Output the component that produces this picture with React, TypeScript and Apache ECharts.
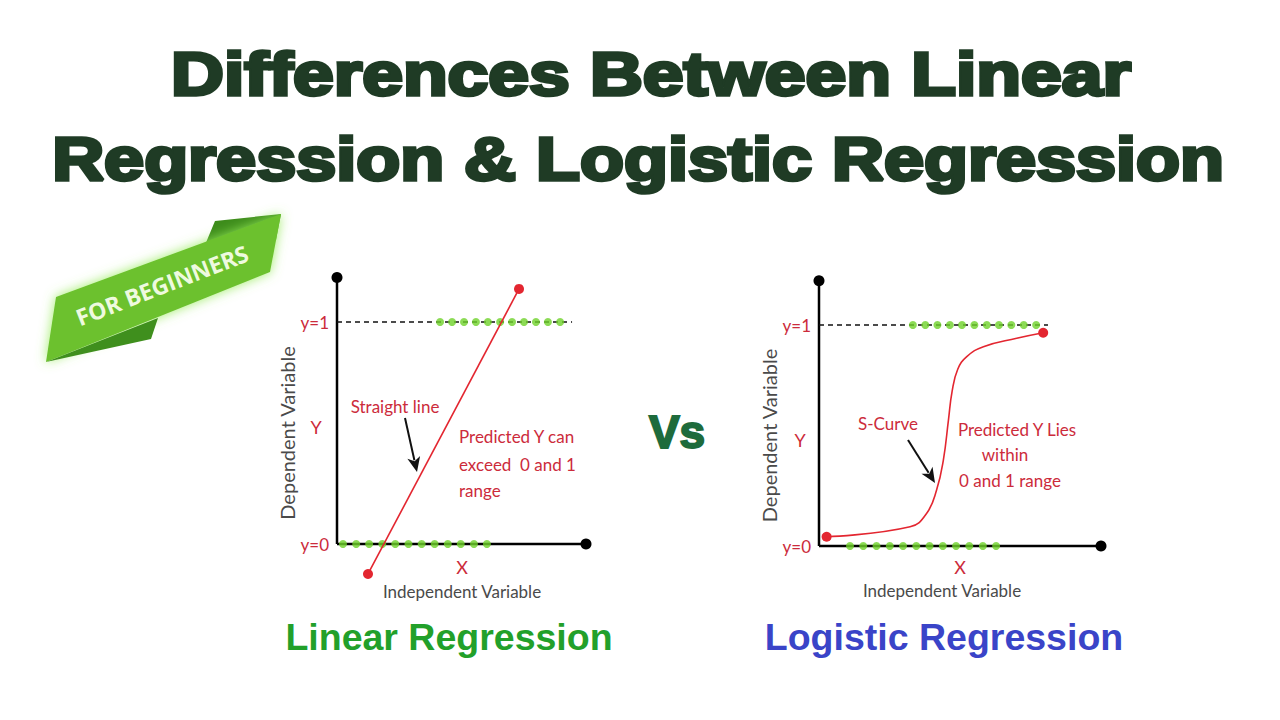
import React, { useEffect, useRef } from "react";
import * as echarts from "echarts";

// ---------- data ----------
const yTicks = [0, 1];
const yTickLabels = ["y=0", "y=1"];

// Linear regression panel
const linAxisY = [[0, 0], [0, 1.2]];
const linAxisX = [[0, 0], [10, 0]];
const linThreshold = [[0, 1], [9.44, 1]];
const linDotsTop = [4.14, 4.62, 5.1, 5.58, 6.06, 6.55, 7.03, 7.51, 7.99, 8.47, 8.96];
const linDotsBottom = [0.24, 0.77, 1.29, 1.82, 2.34, 2.87, 3.4, 3.92, 4.45, 4.97, 5.5, 6.02];
const linFit = [[1.245, -0.135], [7.31, 1.149]];

// Logistic regression panel
const logAxisY = [[0, 0], [0, 1.2]];
const logAxisX = [[0, 0], [10, 0]];
const logThreshold = [[0, 1], [8.12, 1]];
const logDotsTop = [3.33, 3.77, 4.2, 4.64, 5.07, 5.51, 5.95, 6.38, 6.82, 7.26, 7.7];
const logDotsBottom = [1.1, 1.57, 2.04, 2.51, 2.98, 3.45, 3.92, 4.39, 4.86, 5.33, 5.81, 6.28];
const logCurve = [
  [0.27, 0.042], [3.23, 0.087], [3.82, 0.148], [4.17, 0.253], [4.41, 0.389],
  [4.59, 0.57], [4.72, 0.7], [4.92, 0.8], [5.24, 0.857], [5.83, 0.902],
  [7.01, 0.94], [7.95, 0.965],
];

const titleLines = ["Differences Between Linear", "Regression & Logistic Regression"];
const panelTitles = ["Linear Regression", "Logistic Regression"];
// ---------------------------

const FONT = 'Lato, "Open Sans", sans-serif';
const RED = "#cc2b3b";
const LINE_RED = "#e32630";
const GREEN_DOT = "#6fd22b";
const GRAY = "#4a4a4a";

function endDots(pts: number[][], size: number, color?: string, which: "last" | "both" = "last") {
  return pts.map((p, i) => {
    const isEnd = which === "both" ? i === 0 || i === pts.length - 1 : i === pts.length - 1;
    return {
      value: p,
      symbol: isEnd ? "circle" : "none",
      symbolSize: size,
      itemStyle: color ? { color } : undefined,
    };
  });
}

function yLabel(v: number) {
  for (let i = 0; i < yTicks.length; i++) {
    if (Math.abs(v - yTicks[i]) < 1e-6) return yTickLabels[i];
  }
  return "";
}

function panelSeries(
  idx: number,
  axisY: number[][],
  axisX: number[][],
  threshold: number[][],
  dotsTop: number[],
  dotsBottom: number[],
  fit: number[][],
  smooth: boolean
) {
  const base = { xAxisIndex: idx, yAxisIndex: idx, silent: true };
  return [
    {
      ...base,
      type: "line",
      name: "y-axis",
      data: endDots(axisY, 11),
      lineStyle: { color: "#000", width: 2.5 },
      itemStyle: { color: "#000" },
      z: 2,
    },
    {
      ...base,
      type: "line",
      name: "x-axis",
      data: endDots(axisX, 11),
      lineStyle: { color: "#000", width: 2.5 },
      itemStyle: { color: "#000" },
      z: 2,
    },
    {
      ...base,
      type: "line",
      name: "y=1",
      data: threshold,
      symbol: "none",
      lineStyle: { color: "#111", width: 1.5, type: [5, 4] },
      z: 2,
    },
    {
      ...base,
      type: "scatter",
      name: "class 1",
      data: dotsTop.map((x) => [x, 1]),
      symbolSize: 8,
      itemStyle: { color: GREEN_DOT },
      z: 3,
    },
    {
      ...base,
      type: "scatter",
      name: "class 0",
      data: dotsBottom.map((x) => [x, 0]),
      symbolSize: 8,
      itemStyle: { color: GREEN_DOT },
      z: 3,
    },
    {
      ...base,
      type: "line",
      name: "prediction",
      data: endDots(fit, 10, LINE_RED, "both"),
      smooth: smooth ? 0.45 : false,
      lineStyle: { color: LINE_RED, width: 1.6 },
      itemStyle: { color: LINE_RED },
      z: 4,
    },
  ];
}

function txt(text: string, x: number, y: number, size: number, fill: string, extra: any = {}, el: any = {}) {
  return {
    type: "text",
    x,
    y,
    silent: true,
    ...el,
    style: {
      text,
      fill,
      fontSize: size,
      fontFamily: FONT,
      align: "center",
      verticalAlign: "middle",
      ...extra,
    },
  };
}

function arrow(x1: number, y1: number, tx: number, ty: number) {
  const dx = tx - x1;
  const dy = ty - y1;
  const len = Math.sqrt(dx * dx + dy * dy);
  const ux = dx / len;
  const uy = dy / len;
  const hl = 15;
  const hw = 6.5;
  const bx = tx - ux * hl;
  const by = ty - uy * hl;
  const px = -uy;
  const py = ux;
  return {
    type: "group",
    silent: true,
    children: [
      {
        type: "line",
        shape: { x1, y1, x2: bx + ux * 3, y2: by + uy * 3 },
        style: { stroke: "#111", lineWidth: 2 },
      },
      {
        type: "polygon",
        shape: {
          points: [
            [tx, ty],
            [bx + px * hw, by + py * hw],
            [bx + ux * 4, by + uy * 4],
            [bx - px * hw, by - py * hw],
          ],
        },
        style: { fill: "#111" },
      },
    ],
  };
}

export default function App() {
  const ref = useRef<HTMLDivElement>(null);

  useEffect(() => {
    if (!ref.current) return;
    const chart = echarts.init(ref.current, null, { renderer: "svg" });

    const yAxisCommon = (nameGap: number) => ({
      type: "value",
      min: -0.2,
      max: 1.2,
      interval: 0.2,
      axisLine: { show: false },
      axisTick: { show: false },
      splitLine: { show: false },
      axisLabel: {
        formatter: yLabel,
        color: RED,
        fontSize: 17,
        fontFamily: FONT,
        margin: 8,
      },
      name: "Dependent Variable",
      nameLocation: "middle",
      nameRotate: 90,
      nameGap,
      nameTextStyle: { color: GRAY, fontSize: 20, fontFamily: FONT },
    });

    const xAxisCommon = {
      type: "value",
      min: 0,
      max: 10,
      show: false,
    };

    const banner = {
      type: "group",
      silent: true,
      children: [
        {
          type: "polygon",
          shape: { points: [[205, 245], [215, 221], [281, 214], [276, 240]] },
          style: { fill: "#3d8c1b" },
        },
        {
          type: "polygon",
          shape: { points: [[56, 297], [281, 214], [270, 272], [46, 362]] },
          style: { fill: "#6cc12d", shadowBlur: 12, shadowColor: "rgba(150,235,90,0.9)" },
        },
        {
          type: "polygon",
          shape: { points: [[46, 362], [158, 318], [151, 339]] },
          style: { fill: "#3f8f1d" },
        },
        {
          type: "text",
          x: 162,
          y: 285,
          rotation: 0.37,
          style: {
            text: "FOR BEGINNERS",
            fill: "#eefadf",
            fontSize: 23,
            fontWeight: "bold",
            fontFamily: '"Open Sans", Lato, sans-serif',
            align: "center",
            verticalAlign: "middle",
          },
        },
      ],
    };

    const titleStyle = {
      fontFamily: '"Liberation Sans", Arial, sans-serif',
      fontWeight: "bold",
      stroke: "#1f3b25",
      lineWidth: 3.5,
    };

    const subStyle = {
      fontFamily: '"Liberation Sans", Arial, sans-serif',
      fontWeight: "bold",
    };

    const option: any = {
      animation: false,
      backgroundColor: "#ffffff",
      grid: [
        { left: 337, top: 277.6, width: 249, height: 310.8, containLabel: false },
        { left: 819, top: 280.8, width: 282, height: 309.4, containLabel: false },
      ],
      xAxis: [
        { ...xAxisCommon, gridIndex: 0 },
        { ...xAxisCommon, gridIndex: 1 },
      ],
      yAxis: [
        { ...yAxisCommon(38), gridIndex: 0 },
        { ...yAxisCommon(31), gridIndex: 1 },
      ],
      series: [
        ...panelSeries(0, linAxisY, linAxisX, linThreshold, linDotsTop, linDotsBottom, linFit, false),
        ...panelSeries(1, logAxisY, logAxisX, logThreshold, logDotsTop, logDotsBottom, logCurve, true),
      ],
      graphic: [
        txt(titleLines[0], 651, 74, 61, "#1f3b25", titleStyle, { scaleX: 1.2 }),
        txt(titleLines[1], 638, 159, 61, "#1f3b25", titleStyle, { scaleX: 1.18 }),
        banner,
        txt("Vs", 677, 432, 46, "#1e6b3c", {
          fontFamily: '"Liberation Sans", Arial, sans-serif',
          fontWeight: "bold",
          stroke: "#1e6b3c",
          lineWidth: 2,
        }),
        txt(panelTitles[0], 449, 637, 37.5, "#22a02a", subStyle),
        txt(panelTitles[1], 944, 637, 37.5, "#3a44c8", subStyle),
        // left panel annotations
        txt("Y", 316, 427, 18, RED),
        txt("X", 462, 567, 18, RED),
        txt("Independent Variable", 462, 591, 17, GRAY),
        txt("Straight line", 395, 406, 17, RED),
        txt("Predicted Y can", 459, 436, 17, RED, { align: "left" }),
        txt("exceed  0 and 1", 459, 464, 17, RED, { align: "left" }),
        txt("range", 459, 490, 17, RED, { align: "left" }),
        arrow(405, 418, 417, 472),
        // right panel annotations
        txt("Y", 800, 440, 18, RED),
        txt("X", 960, 567, 18, RED),
        txt("Independent Variable", 942, 590, 17, GRAY),
        txt("S-Curve", 888, 423, 17, RED),
        txt("Predicted Y Lies", 1017, 429, 17, RED),
        txt("within", 1005, 454, 17, RED),
        txt("0 and 1 range", 1010, 480, 17, RED),
        arrow(908, 440, 935, 483),
      ],
    };

    chart.setOption(option);
    return () => chart.dispose();
  }, []);

  return (
    <div
      ref={ref}
      style={{ position: "fixed", left: 0, top: 0, width: 1280, height: 720, background: "#fff" }}
    />
  );
}
